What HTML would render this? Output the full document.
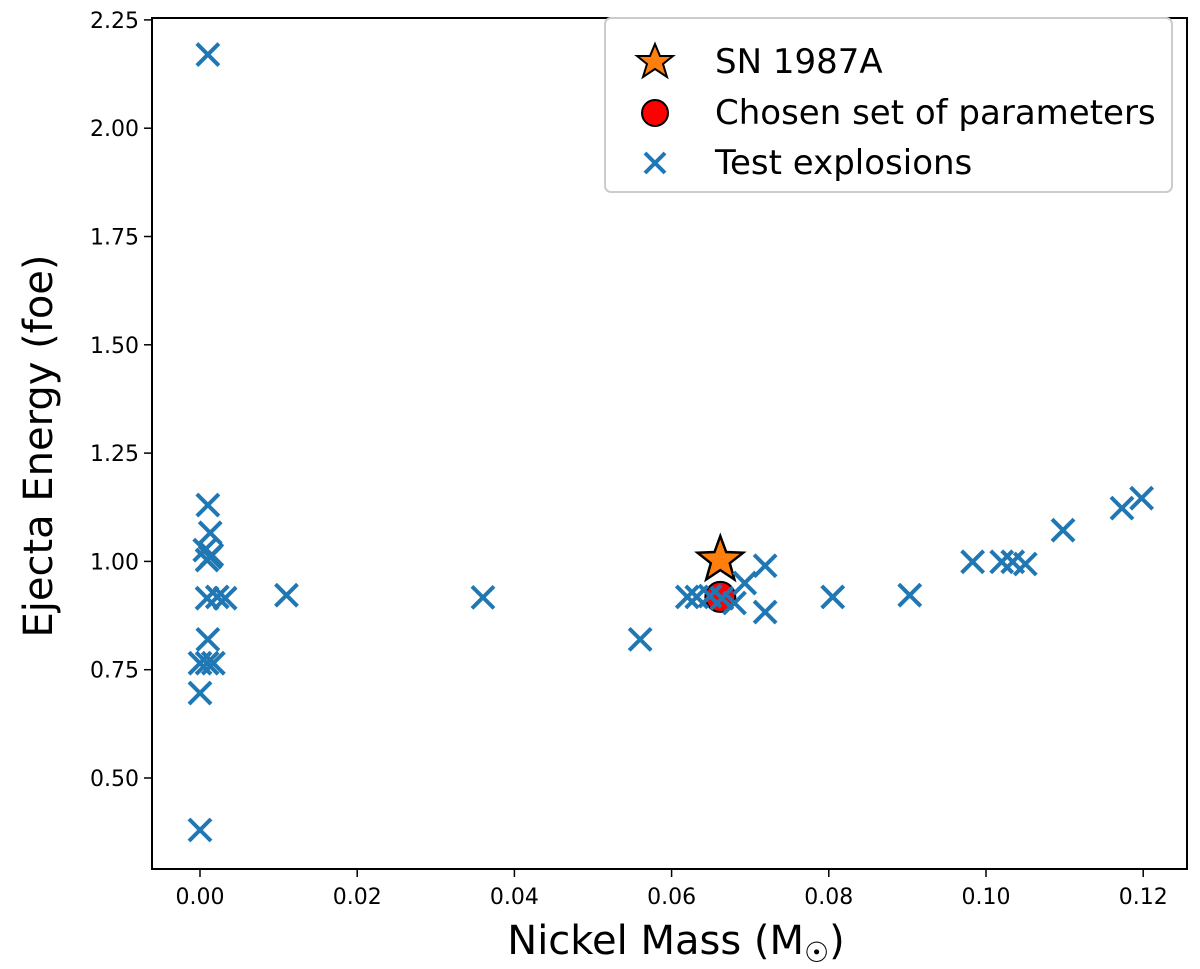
<!DOCTYPE html>
<html><head><meta charset="utf-8"><style>
body{margin:0;background:#fff;}
svg text{font-family:"DejaVu Sans","Liberation Sans",sans-serif;fill:#000;}
</style></head><body>
<svg id="chart" width="1200" height="964" xmlns="http://www.w3.org/2000/svg">
<g id="marks"></g>
<rect x="152" y="18" width="1035" height="851" fill="none" stroke="#000" stroke-width="2"/>
<g id="axes"></g>
<text x="676" y="954" font-size="40" text-anchor="middle">Nickel Mass (M<tspan font-size="28" dy="8">☉</tspan><tspan dy="-8">)</tspan></text>
<text transform="translate(52,446) rotate(-90)" font-size="40" text-anchor="middle">Ejecta Energy (foe)</text>
<g>
<rect x="605" y="18" width="567" height="174" rx="6" fill="#fff" stroke="#ccc" stroke-width="2"/>
<polygon points="655,44 660,56 673,56 663,64 667,77 655,69 643,77 647,64 637,56 650,56" fill="#ff7f0e" stroke="#000" stroke-width="2"/>
<text x="715" y="73" font-size="34">SN 1987A</text>
<circle cx="655" cy="113" r="13" fill="red" stroke="#000" stroke-width="2"/>
<text x="715" y="124" font-size="34">Chosen set of parameters</text>
<path d="M645,153 L665,173 M665,153 L645,173" stroke="#1f77b4" stroke-width="4"/>
<text x="715" y="174" font-size="34">Test explosions</text>
</g>
</svg>
<script>
const testMass=[0.0,0.001,0.001,0.0013,0.0013,0.0006,0.0009,0.0015,0.0009,0.0022,0.0032,0.011,0.001,0.0,0.0009,0.0017,0.0,0.036,0.056,0.062,0.0632,0.0649,0.0664,0.068,0.0693,0.0719,0.0719,0.0805,0.0903,0.0983,0.102,0.1034,0.105,0.1098,0.1173,0.1198];
const testEnergy=[0.38,2.17,1.13,1.066,1.01,1.026,1.003,1.015,0.915,0.918,0.915,0.922,0.82,0.765,0.765,0.765,0.696,0.917,0.82,0.918,0.918,0.92,0.915,0.904,0.95,0.99,0.883,0.918,0.922,0.999,0.999,0.999,0.994,1.072,1.123,1.146];
const snMass=[0.0662], snEnergy=[1.003];
const chosenMass=[0.0662], chosenEnergy=[0.918];
const xTicks=[0,0.02,0.04,0.06,0.08,0.10,0.12];
const yTicks=[0.5,0.75,1.0,1.25,1.5,1.75,2.0,2.25];
const NS="http://www.w3.org/2000/svg";
function xs(v){return 200+v*7860;}
function ys(v){return 778-(v-0.5)*433.2;}
const marks=document.getElementById('marks'),axes=document.getElementById('axes');
function mk(t,a,p){const e=document.createElementNS(NS,t);for(const k in a)e.setAttribute(k,a[k]);p.appendChild(e);return e;}
chosenMass.forEach((m,i)=>{const c=mk('circle',{cx:xs(m),cy:ys(chosenEnergy[i]),r:15,fill:'red',stroke:'#000','stroke-width':2},marks);

});
snMass.forEach((m,i)=>{const cx=xs(m),cy=ys(snEnergy[i]);let pts=[];for(let k=0;k<10;k++){const r=k%2?10:24,a=-Math.PI/2+k*Math.PI/5;pts.push((cx+r*Math.cos(a)).toFixed(1)+','+(cy+r*Math.sin(a)).toFixed(1));}
const s=mk('polygon',{points:pts.join(' '),fill:'#ff7f0e',stroke:'#000','stroke-width':2.5},marks);

});
testMass.forEach((m,i)=>{const x=xs(m),y=ys(testEnergy[i]),d=11;
const p=mk('path',{d:`M${x-d},${y-d}L${x+d},${y+d}M${x+d},${y-d}L${x-d},${y+d}`,stroke:'#1f77b4','stroke-width':4},marks);

});
xTicks.forEach(v=>{const x=xs(v);mk('line',{x1:x,x2:x,y1:869,y2:877,stroke:'#000','stroke-width':1.5},axes);
const t=mk('text',{x:x,y:904,'font-size':22,'text-anchor':'middle'},axes);t.textContent=v.toFixed(2);

});
yTicks.forEach(v=>{const y=ys(v);mk('line',{x1:144,x2:152,y1:y,y2:y,stroke:'#000','stroke-width':1.5},axes);
const t=mk('text',{x:139,y:y+8,'font-size':22,'text-anchor':'end'},axes);t.textContent=v.toFixed(2);

});
</script>
</body></html>
